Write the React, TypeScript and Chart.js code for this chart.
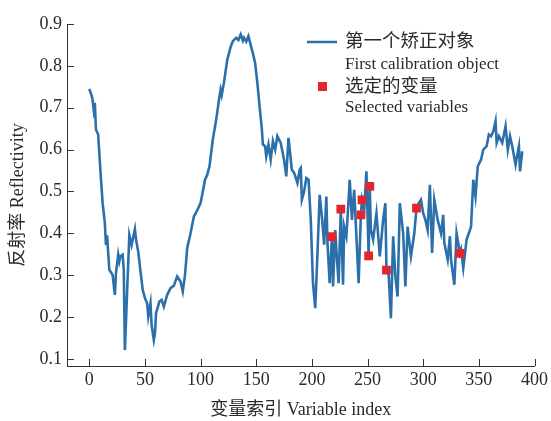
import React, { useEffect, useRef } from 'react';
import { Chart, registerables } from 'chart.js';

Chart.register(...registerables);

const variableIndex = [
  0, 2, 3, 4, 5, 6, 8, 10, 12, 14, 15, 16, 18, 20, 21, 23, 24, 26, 27, 28, 30, 31, 32, 34, 36, 38, 41, 42, 44, 46, 48, 50,
  52, 53, 55, 56, 58, 59, 60, 63, 65, 67, 70, 73, 76, 79, 82, 84, 86, 88, 91, 94, 97, 100, 102, 104, 106, 108, 111, 114,
  117, 118, 119, 121, 124, 127, 129, 132, 134, 136, 138, 139, 141, 143, 145, 147, 149, 151, 153, 155, 156, 158, 159, 161,
  163, 165, 167, 169, 172, 175, 177, 179, 182, 184, 187, 189, 190, 191, 193, 195, 197, 199, 201, 203, 205, 207, 209, 211,
  213, 214, 216, 218, 219, 221, 222, 224, 226, 228, 229, 231, 233, 234, 236, 238, 240, 242, 244, 245, 247, 249, 251, 252,
  253, 255, 258, 261, 264, 266, 267, 269, 271, 273, 275, 277, 279, 282, 284, 286, 289, 292, 294, 296, 298, 300, 302, 304,
  306, 308, 310, 313, 316, 318, 319, 322, 324, 325, 328, 330, 333, 334, 336, 339, 341, 343, 345, 347, 349, 352, 354, 357,
  359, 361, 363, 365, 366, 368, 371, 374, 376, 378, 380, 383, 384, 386, 387, 389,
];

const reflectivity = [
  0.745, 0.73, 0.719, 0.695, 0.712, 0.648, 0.636, 0.55, 0.472, 0.425, 0.372, 0.395, 0.313, 0.305, 0.3, 0.253, 0.305, 0.349,
  0.333, 0.345, 0.349, 0.313, 0.121, 0.26, 0.396, 0.372, 0.41, 0.385, 0.356, 0.31, 0.265, 0.245,
  0.233, 0.201, 0.233, 0.181, 0.145, 0.16, 0.209, 0.237, 0.241, 0.225, 0.253, 0.269, 0.275, 0.297, 0.285, 0.261, 0.3, 0.365,
  0.4, 0.44, 0.455, 0.472, 0.5, 0.528, 0.54, 0.56, 0.624, 0.671,
  0.727, 0.743, 0.73, 0.76, 0.815, 0.845, 0.859, 0.867, 0.862, 0.875, 0.86, 0.867, 0.858, 0.871, 0.85, 0.83, 0.807, 0.76,
  0.703, 0.65, 0.612, 0.608, 0.584, 0.612,
  0.576, 0.62, 0.6, 0.632, 0.616, 0.576, 0.536, 0.628, 0.552, 0.545, 0.52, 0.552, 0.556, 0.48, 0.5, 0.532, 0.528, 0.432,
  0.281, 0.221, 0.35, 0.492, 0.44, 0.373,
  0.488, 0.377, 0.281, 0.392, 0.273, 0.408, 0.361, 0.281, 0.458, 0.277, 0.416, 0.393, 0.48, 0.528, 0.432, 0.504, 0.393,
  0.281, 0.444, 0.48, 0.456, 0.548, 0.346, 0.512,
  0.408, 0.385, 0.448, 0.345, 0.432, 0.472, 0.312, 0.3, 0.197, 0.393, 0.297, 0.249, 0.472, 0.4, 0.273, 0.416, 0.345, 0.4,
  0.46, 0.472, 0.48, 0.448, 0.432, 0.408,
  0.516, 0.353, 0.48, 0.432, 0.4, 0.444, 0.377, 0.337, 0.393, 0.337, 0.277, 0.4, 0.352, 0.361, 0.317, 0.385, 0.4, 0.416,
  0.528, 0.488, 0.56, 0.576, 0.6, 0.608,
  0.636, 0.632, 0.644, 0.668, 0.616, 0.632, 0.616, 0.656, 0.6, 0.632, 0.608, 0.564, 0.58, 0.608, 0.548, 0.596,
];

const selectedIndex = [218, 226, 244, 245, 251, 252, 267, 294, 333];
const selectedValue = [0.392, 0.458, 0.444, 0.48, 0.346, 0.512, 0.312, 0.46, 0.352];

const xTicks = [0, 50, 100, 150, 200, 250, 300, 350, 400];
const yTicks = [0.1, 0.2, 0.3, 0.4, 0.5, 0.6, 0.7, 0.8, 0.9];

const lineLabelZh = '第一个矫正对象';
const lineLabelEn = 'First calibration object';
const markerLabelZh = '选定的变量';
const markerLabelEn = 'Selected variables';
const xTitle = '变量索引 Variable index';
const yTitle = '反射率 Reflectivity';

const FONT = "'Liberation Serif', 'Noto Sans CJK SC', serif";
const LINE_COLOR = '#2b70ab';
const MARKER_COLOR = '#e3262b';
const TEXT_COLOR = '#2a2a2a';
const AXIS_COLOR = '#333';
const TICK_LEN = 7;

const innerTicksPlugin = {
  id: 'innerTicks',
  afterDraw(chart: any) {
    const ctx = chart.ctx as CanvasRenderingContext2D;
    const { x, y } = chart.scales;
    const area = chart.chartArea;
    ctx.save();
    ctx.strokeStyle = AXIS_COLOR;
    ctx.lineWidth = 1;
    ctx.beginPath();
    xTicks.forEach((v) => {
      const px = Math.round(x.getPixelForValue(v)) + 0.5;
      ctx.moveTo(px, area.bottom);
      ctx.lineTo(px, area.bottom - TICK_LEN);
    });
    yTicks.forEach((v) => {
      const py = Math.round(y.getPixelForValue(v)) + 0.5;
      ctx.moveTo(area.left, py);
      ctx.lineTo(area.left + TICK_LEN, py);
    });
    ctx.stroke();
    ctx.restore();
  },
};

const legendPlugin = {
  id: 'customLegend',
  afterDraw(chart: any) {
    const ctx = chart.ctx as CanvasRenderingContext2D;
    ctx.save();
    ctx.strokeStyle = LINE_COLOR;
    ctx.lineWidth = 2.5;
    ctx.beginPath();
    ctx.moveTo(307, 42);
    ctx.lineTo(337, 42);
    ctx.stroke();
    ctx.fillStyle = MARKER_COLOR;
    ctx.fillRect(318, 82, 9, 9);

    ctx.fillStyle = TEXT_COLOR;
    ctx.textBaseline = 'middle';
    ctx.textAlign = 'left';
    ctx.font = `18.5px ${FONT}`;
    ctx.fillText(lineLabelZh, 345, 42);
    ctx.fillText(markerLabelZh, 345, 87);
    ctx.font = `17px ${FONT}`;
    ctx.fillText(lineLabelEn, 345, 65);
    ctx.fillText(markerLabelEn, 345, 108);
    ctx.restore();
  },
};

export default function App() {
  const canvasRef = useRef<HTMLCanvasElement | null>(null);

  useEffect(() => {
    const canvas = canvasRef.current;
    if (!canvas) return;
    const chart = new Chart(canvas, {
      type: 'line',
      data: {
        datasets: [
          {
            type: 'scatter',
            label: markerLabelZh,
            data: selectedIndex.map((xv, i) => ({ x: xv, y: selectedValue[i] })),
            pointStyle: 'rect',
            pointRadius: 6.2,
            backgroundColor: MARKER_COLOR,
            borderWidth: 0,
            order: 0,
          } as any,
          {
            type: 'line',
            label: lineLabelZh,
            data: variableIndex.map((xv, i) => ({ x: xv, y: reflectivity[i] })),
            borderColor: LINE_COLOR,
            borderWidth: 2.6,
            pointRadius: 0,
            tension: 0,
            fill: false,
            order: 1,
          } as any,
        ],
      },
      options: {
        responsive: false,
        animation: false,
        events: [],
        layout: { padding: { top: 24, right: 14, left: 0, bottom: 0 } },
        plugins: {
          legend: { display: false },
          tooltip: { enabled: false },
        },
        scales: {
          x: {
            type: 'linear',
            min: -20,
            max: 400,
            afterBuildTicks: (s: any) => {
              s.ticks = xTicks.map((v) => ({ value: v }));
            },
            afterFit: (s: any) => {
              s.height = 55;
            },
            border: { display: true, color: AXIS_COLOR, width: 1 },
            grid: { drawOnChartArea: false, drawTicks: false },
            ticks: {
              font: { family: FONT, size: 18 },
              color: TEXT_COLOR,
              padding: 3,
              maxRotation: 0,
              autoSkip: false,
              callback: (v: any) => String(v),
            },
            title: {
              display: true,
              text: xTitle,
              font: { family: FONT, size: 18 },
              color: TEXT_COLOR,
              padding: { top: 0, bottom: 0 },
            },
          },
          y: {
            type: 'linear',
            min: 0.083,
            max: 0.9,
            afterBuildTicks: (s: any) => {
              s.ticks = yTicks.map((v) => ({ value: v }));
            },
            afterFit: (s: any) => {
              s.width = 67;
            },
            border: { display: true, color: AXIS_COLOR, width: 1 },
            grid: { drawOnChartArea: false, drawTicks: false },
            ticks: {
              font: { family: FONT, size: 18 },
              color: TEXT_COLOR,
              padding: 5,
              autoSkip: false,
              callback: (v: any) => Number(v).toFixed(1),
            },
            title: {
              display: true,
              text: yTitle,
              font: { family: FONT, size: 18 },
              color: TEXT_COLOR,
              padding: { top: 7, bottom: 0 },
            },
          },
        },
      } as any,
      plugins: [innerTicksPlugin, legendPlugin],
    });
    return () => chart.destroy();
  }, []);

  return (
    <div style={{ position: 'fixed', left: 0, top: 0, width: 551, height: 421, background: '#fff' }}>
      <canvas ref={canvasRef} width={551} height={421} style={{ width: 551, height: 421, display: 'block' }} />
    </div>
  );
}
